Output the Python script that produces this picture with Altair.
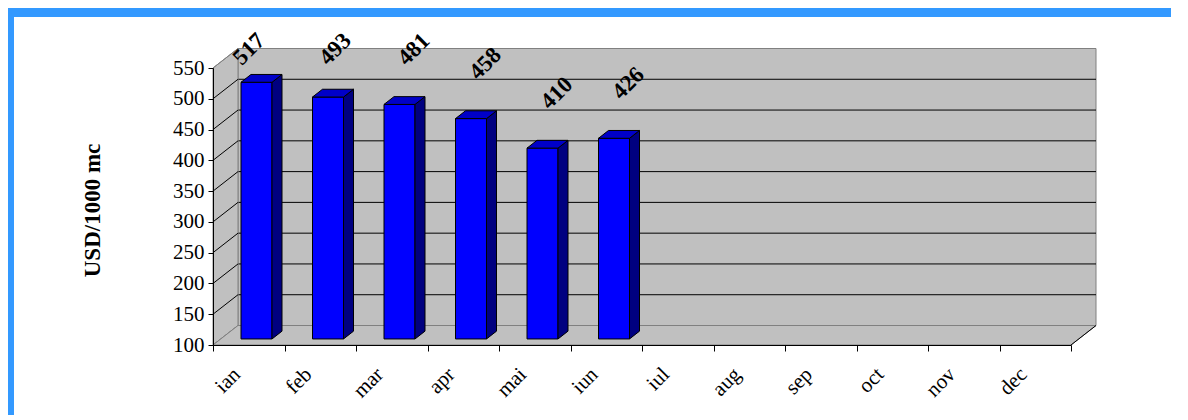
import altair as alt
import pandas as pd

# ---------------- data ----------------
MONTHS = ["ian", "feb", "mar", "apr", "mai", "iun", "iul", "aug", "sep", "oct", "nov", "dec"]
VALUES = [517, 493, 481, 458, 410, 426]
Y_TICKS = [100, 150, 200, 250, 300, 350, 400, 450, 500, 550]
Y_TITLE = "USD/1000 mc"

# ---------------- geometry / style ----------------
W, H = 858, 277
Y_MIN, Y_MAX = Y_TICKS[0], Y_TICKS[-1]
N = len(MONTHS)
XU = W / N                      # px per category
YU = H / (Y_MAX - Y_MIN)        # px per value unit
WALL_DX_PX, WALL_DY_PX = 25, 19.5
BAR_Z0, BAR_Z1 = 0.31, 0.71     # bar front/back as fraction of depth
BAR_W_PX = 31
LABEL_LIFT_PX, LABEL_TOP_PX, LABEL_DX_PX = 61, 19, 22

DX = WALL_DX_PX / XU
DY = WALL_DY_PX / YU
BW = BAR_W_PX / XU

GRAY_FILL = "#C0C0C0"
GRAY_EDGE = "#808080"
SERIF = "Liberation Serif"

XS = alt.Scale(domain=[0, N], nice=False, zero=False)
YS = alt.Scale(domain=[Y_MIN, Y_MAX], nice=False, zero=False)
YAX = alt.Axis(values=Y_TICKS, title=Y_TITLE, titleFont=SERIF, titleFontSize=23,
               titleFontWeight="bold", titleColor="black", titleAngle=270,
               titleX=-121, titleY=142, titleAlign="center", titleBaseline="middle",
               labelFont=SERIF, labelFontSize=21, labelColor="black", labelPadding=4,
               labelFlush=False, labelOverlap=False, tickSize=5, tickColor="black",
               domainColor="black", domainWidth=1, grid=False, zindex=1)


def X(f):
    return alt.X(f, type="quantitative", scale=XS, axis=None)


def Y(f):
    return alt.Y(f, type="quantitative", scale=YS, axis=YAX)


# ---------------- tables ----------------
back_df = pd.DataFrame([{"x": DX, "x2": N + DX, "y": Y_MIN + DY, "y2": Y_MAX + DY}])
grid_df = pd.DataFrame([{"x": DX, "x2": N + DX, "y": v + DY} for v in Y_TICKS[1:-1]])
side_df = pd.DataFrame([{"x": 0, "y": Y_MIN, "y2": Y_MAX},
                        {"x": DX, "y": Y_MIN + DY, "y2": Y_MAX + DY}])
diag_df = pd.DataFrame([{"x": 0, "x2": DX, "y": v, "y2": v + DY,
                         "edge": v in (Y_MIN, Y_MAX)} for v in Y_TICKS])
floor_df = pd.DataFrame([{"y": Y_MIN, "x": 0, "x2": N},
                         {"y": Y_MIN + DY, "x": DX, "x2": N + DX}])
fedge_df = pd.DataFrame([{"x": N, "x2": N + DX, "y": Y_MIN, "y2": Y_MIN + DY}])

front, sides, tops, labels = [], [], [], []
dz = BAR_Z1 - BAR_Z0
for i, v in enumerate(VALUES):
    m = MONTHS[i]
    cx = i + 0.5
    L0 = cx - BW / 2 + BAR_Z0 * DX
    R0 = cx + BW / 2 + BAR_Z0 * DX
    front.append({"month": m, "x": L0, "x2": R0, "y": v + BAR_Z0 * DY, "y2": Y_MIN + BAR_Z0 * DY})
    sides.append({"month": m, "x": R0, "ylo": Y_MIN + BAR_Z0 * DY, "yhi": v + BAR_Z0 * DY})
    sides.append({"month": m, "x": R0 + dz * DX, "ylo": Y_MIN + BAR_Z1 * DY, "yhi": v + BAR_Z1 * DY})
    tops.append({"month": m, "y": v + BAR_Z0 * DY, "xl": L0, "xr": R0})
    tops.append({"month": m, "y": v + BAR_Z1 * DY, "xl": L0 + dz * DX, "xr": R0 + dz * DX})
    want = v + LABEL_LIFT_PX / YU
    cap = Y_MAX + LABEL_TOP_PX / YU
    ly = min(want, cap)
    lx = cx + LABEL_DX_PX / XU - (want - ly) * YU / XU
    labels.append({"month": m, "value": v, "x": lx, "y": ly})

front_df = pd.DataFrame(front)
sides_df = pd.DataFrame(sides)
tops_df = pd.DataFrame(tops)
labels_df = pd.DataFrame(labels)
axis_df = pd.DataFrame({"month": MONTHS, "yv": [Y_MIN] * N})

# ---------------- layers ----------------
back_wall = alt.Chart(back_df).mark_rect(fill=GRAY_FILL, stroke=GRAY_EDGE, strokeWidth=1).encode(
    x=X("x"), x2="x2", y=Y("y"), y2="y2")
back_grid = alt.Chart(grid_df).mark_rule(color="black", strokeWidth=1).encode(
    x=X("x"), x2="x2", y=Y("y"))
side_wall = alt.Chart(side_df).mark_area(orient="vertical", fill=GRAY_FILL, stroke=GRAY_EDGE,
                                         strokeWidth=1, opacity=1).encode(
    x=X("x"), y=Y("y"), y2="y2")
diag_grid = alt.Chart(diag_df).transform_filter("!datum.edge").mark_rule(color="black").encode(
    x=X("x"), x2="x2", y=Y("y"), y2="y2")
diag_edge = alt.Chart(diag_df).transform_filter("datum.edge").mark_rule(color=GRAY_EDGE).encode(
    x=X("x"), x2="x2", y=Y("y"), y2="y2")
floor = alt.Chart(floor_df).mark_area(orient="horizontal", fill=GRAY_FILL, stroke=GRAY_EDGE,
                                      strokeWidth=1, opacity=1).encode(
    y=Y("y"), x=X("x"), x2="x2")
floor_edge = alt.Chart(fedge_df).mark_rule(color="black").encode(
    x=X("x"), x2="x2", y=Y("y"), y2="y2")

bar_front = alt.Chart(front_df).mark_rect(fill="#0000FF", stroke="black", strokeWidth=1).encode(
    x=X("x"), x2="x2", y=Y("y"), y2="y2")
bar_side = alt.Chart(sides_df).mark_area(orient="vertical", fill="#000080", stroke="black",
                                         strokeWidth=1, opacity=1).encode(
    x=X("x"), y=Y("ylo"), y2="yhi", detail="month:N")
bar_top = alt.Chart(tops_df).mark_area(orient="horizontal", fill="#0000C8", stroke="black",
                                       strokeWidth=1, opacity=1).encode(
    y=Y("y"), x=X("xl"), x2="xr", detail="month:N")
value_text = alt.Chart(labels_df).mark_text(angle=315, align="center", baseline="middle",
                                            font=SERIF, fontSize=23, fontWeight="bold",
                                            color="black").encode(
    x=X("x"), y=Y("y"), text="value:Q")

plot3d = alt.layer(back_wall, back_grid, side_wall, diag_grid, diag_edge, floor, floor_edge,
                   bar_front, bar_side, bar_top, value_text)

month_axis = alt.Chart(axis_df).mark_bar(opacity=0).encode(
    x=alt.X("month:N", sort=MONTHS,
            scale=alt.Scale(type="band", domain=MONTHS, paddingInner=0, paddingOuter=0),
            axis=alt.Axis(orient="bottom", title=None, domainColor="black", domainWidth=1,
                          tickColor="black", tickSize=6, tickBand="extent", grid=False,
                          labelAngle=315, labelAlign="right", labelBaseline="middle",
                          labelFont=SERIF, labelFontSize=21, labelColor="black",
                          labelPadding=20, labelOffset=-12, labelOverlap=False, zindex=1)),
    y=Y("yv"), y2="yv")

frame_src = pd.DataFrame({"k": [0]})
frame_top = alt.Chart(frame_src).mark_rect(color="#3399FF").encode(
    x=alt.value(-205), x2=alt.value(W + 100), y=alt.value(-60), y2=alt.value(-51))
frame_left = alt.Chart(frame_src).mark_rect(color="#3399FF").encode(
    x=alt.value(-205), x2=alt.value(-199), y=alt.value(-60), y2=alt.value(H + 70))

chart = alt.layer(frame_top, frame_left, plot3d, month_axis).resolve_scale(
    x="independent"
).properties(
    width=W, height=H,
    autosize=alt.AutoSizeParams(type="none"),
    padding={"left": 205, "top": 60, "right": 100, "bottom": 70},
).configure_view(stroke=None)

chart.save("out.html", embed_options={"renderer": "svg", "actions": False})
